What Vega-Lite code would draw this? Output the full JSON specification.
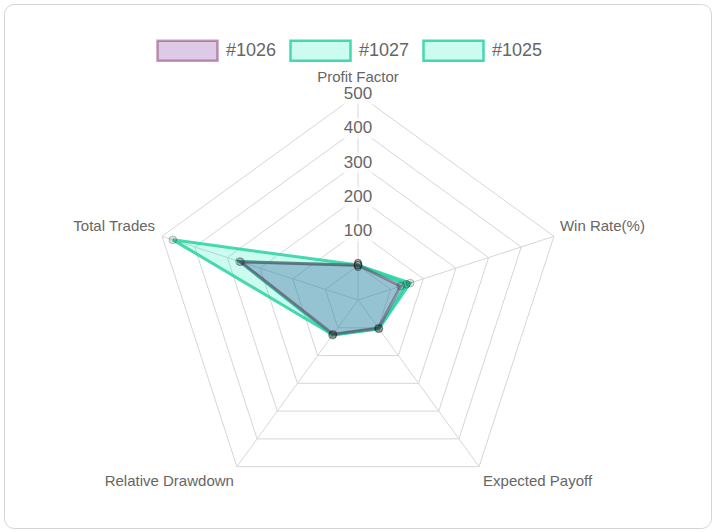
{
  "$schema": "https://vega.github.io/schema/vega-lite/v6.json",
  "description": "Radar chart comparing three test runs on five metrics",
  "width": 707,
  "height": 524,
  "autosize": "none",
  "padding": 4,
  "background": "white",
  "config": {
    "font": "Liberation Sans",
    "view": {"stroke": "#d4d4d4", "cornerRadius": 10}
  },
  "datasets": {
    "metrics": [
      {"metric": "Profit Factor", "k": 0, "ticks": [0, 100, 200, 300, 400, 500]},
      {"metric": "Win Rate(%)", "k": 1, "ticks": [0, 100, 200, 300, 400, 500]},
      {"metric": "Expected Payoff", "k": 2, "ticks": [0, 100, 200, 300, 400, 500]},
      {"metric": "Relative Drawdown", "k": 3, "ticks": [0, 100, 200, 300, 400, 500]},
      {"metric": "Total Trades", "k": 4, "ticks": [0, 100, 200, 300, 400, 500]}
    ],
    "runs": [
      {"run": "#1025", "metric": "Profit Factor", "value": 1.8},
      {"run": "#1025", "metric": "Win Rate(%)", "value": 60},
      {"run": "#1025", "metric": "Expected Payoff", "value": 3},
      {"run": "#1025", "metric": "Relative Drawdown", "value": 25},
      {"run": "#1025", "metric": "Total Trades", "value": 467},
      {"run": "#1027", "metric": "Profit Factor", "value": 1.5},
      {"run": "#1027", "metric": "Win Rate(%)", "value": 48},
      {"run": "#1027", "metric": "Expected Payoff", "value": 4},
      {"run": "#1027", "metric": "Relative Drawdown", "value": 27},
      {"run": "#1027", "metric": "Total Trades", "value": 263},
      {"run": "#1026", "metric": "Profit Factor", "value": 1.2},
      {"run": "#1026", "metric": "Win Rate(%)", "value": 31},
      {"run": "#1026", "metric": "Expected Payoff", "value": 1},
      {"run": "#1026", "metric": "Relative Drawdown", "value": 23},
      {"run": "#1026", "metric": "Total Trades", "value": 259}
    ]
  },
  "encoding": {
    "x": {"field": "x", "type": "quantitative", "axis": null,
          "scale": {"domain": [-1031.07, 1028.16], "nice": false, "zero": false}},
    "y": {"field": "y", "type": "quantitative", "axis": null,
          "scale": {"domain": [-664.08, 862.14], "nice": false, "zero": false}}
  },
  "layer": [
    {
      "data": {"name": "metrics"},
      "transform": [
        {"calculate": "datum.k * 2 * PI / 5", "as": "a"},
        {"calculate": "600 * sin(datum.a)", "as": "x"},
        {"calculate": "600 * cos(datum.a)", "as": "y"}
      ],
      "layer": [
        {
          "mark": {"type": "rule", "stroke": "#d6d6d6", "strokeWidth": 1},
          "encoding": {"x2": {"datum": 0}, "y2": {"datum": 0}}
        },
        {
          "transform": [{"filter": "datum.k == 0"}],
          "mark": {"type": "text", "align": "center", "baseline": "middle", "dy": -17, "fontSize": 15, "fill": "#666"},
          "encoding": {"text": {"field": "metric"}}
        },
        {
          "transform": [{"filter": "datum.k == 1"}],
          "mark": {"type": "text", "align": "left", "baseline": "middle", "dx": 6, "dy": -10, "fontSize": 15, "fill": "#666"},
          "encoding": {"text": {"field": "metric"}}
        },
        {
          "transform": [{"filter": "datum.k == 2"}],
          "mark": {"type": "text", "align": "left", "baseline": "middle", "dx": 4, "dy": 14, "fontSize": 15, "fill": "#666"},
          "encoding": {"text": {"field": "metric"}}
        },
        {
          "transform": [{"filter": "datum.k == 3"}],
          "mark": {"type": "text", "align": "right", "baseline": "middle", "dx": -3, "dy": 14, "fontSize": 15, "fill": "#666"},
          "encoding": {"text": {"field": "metric"}}
        },
        {
          "transform": [{"filter": "datum.k == 4"}],
          "mark": {"type": "text", "align": "right", "baseline": "middle", "dx": -7, "dy": -10, "fontSize": 15, "fill": "#666"},
          "encoding": {"text": {"field": "metric"}}
        }
      ]
    },
    {
      "data": {"name": "metrics"},
      "transform": [
        {"flatten": ["ticks"], "as": ["tick"]},
        {"calculate": "datum.k * 2 * PI / 5", "as": "a"},
        {"calculate": "(datum.tick + 100) * sin(datum.a)", "as": "x"},
        {"calculate": "(datum.tick + 100) * cos(datum.a)", "as": "y"}
      ],
      "layer": [
        {
          "mark": {"type": "line", "interpolate": "linear-closed", "stroke": "#d6d6d6", "strokeWidth": 1},
          "encoding": {"detail": {"field": "tick"}, "order": {"field": "k"}}
        },
        {
          "transform": [{"filter": "datum.k == 0 && datum.tick > 0"}],
          "mark": {"type": "point", "shape": "M-1,-0.65H1V0.65H-1Z", "size": 1024, "filled": true, "fill": "white", "opacity": 0.75, "strokeWidth": 0}
        },
        {
          "transform": [{"filter": "datum.k == 0"}],
          "mark": {"type": "text", "align": "center", "baseline": "middle", "fontSize": 17, "fill": "#666"},
          "encoding": {"text": {"field": "tick"}}
        }
      ]
    },
    {
      "data": {"name": "runs"},
      "transform": [
        {"lookup": "metric", "from": {"data": {"name": "metrics"}, "key": "metric", "fields": ["k"]}},
        {"calculate": "datum.k * 2 * PI / 5", "as": "a"},
        {"calculate": "(datum.value + 100) * sin(datum.a)", "as": "x"},
        {"calculate": "(datum.value + 100) * cos(datum.a)", "as": "y"}
      ],
      "layer": [
        {
          "mark": {"type": "line", "interpolate": "linear-closed", "strokeWidth": 3},
          "encoding": {
            "order": {"field": "k"},
            "detail": {"field": "run"},
            "fill": {
              "field": "run", "type": "nominal",
              "scale": {"domain": ["#1026", "#1027", "#1025"],
                        "range": ["rgba(100,15,145,0.22)", "rgba(0,235,180,0.2)", "rgba(0,235,180,0.2)"]},
              "legend": {
                "orient": "none", "legendX": 162, "legendY": 25, "direction": "horizontal",
                "title": null, "padding": 0,
                "symbolType": "M-1.5,-0.5H1.5V0.5H-1.5Z", "symbolSize": 1600, "symbolStrokeWidth": 2.5,
                "labelFontSize": 18, "labelColor": "#666", "labelOffset": 17, "columnPadding": 8
              }
            },
            "stroke": {
              "field": "run", "type": "nominal",
              "scale": {"domain": ["#1026", "#1027", "#1025"],
                        "range": ["rgba(120,20,80,0.42)", "rgba(40,210,160,0.85)", "rgba(40,210,160,0.85)"]},
              "legend": {
                "orient": "none", "legendX": 162, "legendY": 25, "direction": "horizontal",
                "title": null, "padding": 0,
                "symbolType": "M-1.5,-0.5H1.5V0.5H-1.5Z", "symbolSize": 1600, "symbolStrokeWidth": 2.5,
                "labelFontSize": 18, "labelColor": "#666", "labelOffset": 17, "columnPadding": 8
              }
            }
          }
        },
        {
          "mark": {"type": "circle", "size": 60, "fill": "black", "fillOpacity": 0.12, "stroke": "black", "strokeOpacity": 0.22, "strokeWidth": 1}
        }
      ]
    }
  ]
}
